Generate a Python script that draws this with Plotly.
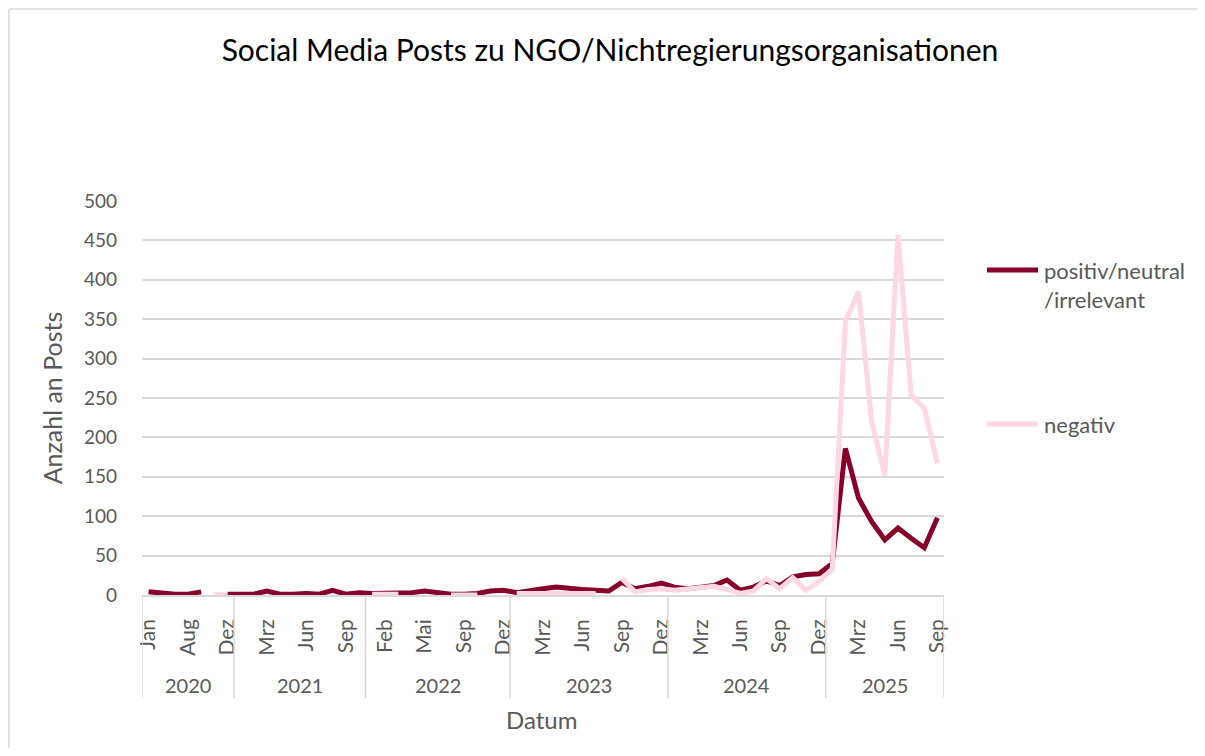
import plotly.graph_objects as go

# Monate je Jahr (wie in der Quelltabelle, nicht jeder Monat vorhanden)
jahre = ["2020", "2021", "2022", "2023", "2024", "2025"]
monate_2020 = ["Jan", "Feb", "Jul", "Aug", "Okt", "Nov", "Dez"]
monate_2021 = ["Jan", "Feb", "Mrz", "Apr", "Mai", "Jun", "Jul", "Aug", "Sep", "Okt"]
monate_2022 = ["Jan", "Feb", "Mrz", "Apr", "Mai", "Jun", "Aug", "Sep", "Okt", "Nov", "Dez"]
monate_2023 = ["Jan", "Feb", "Mrz", "Apr", "Mai", "Jun", "Jul", "Aug", "Sep", "Okt", "Nov", "Dez"]
monate_2024 = ["Jan", "Feb", "Mrz", "Apr", "Mai", "Jun", "Jul", "Aug", "Sep", "Okt", "Nov", "Dez"]
monate_2025 = ["Jan", "Feb", "Mrz", "Apr", "Mai", "Jun", "Jul", "Aug", "Sep"]

positiv = [4, 2, 1, 1, 4, None, 1,
           1, 1, 5, 1, 1, 2, 1, 6, 1, 3,
           2, 2, 2, 3, 5, 3, 1, 1, 2, 5, 6,
           3, 6, 8, 10, 8, 7, 6, 5, 16, 8, 11, 15,
           10, 8, 10, 12, 19, 6, 10, 18, 12, 23, 26, 27,
           40, 186, 123, 93, 70, 85, 72, 60, 98]

negativ = [None, None, None, None, None, 1, 0,
           None, None, None, None, None, None, None, None, None, None,
           1, 1, 1, None, None, None, 0, 0, 0, None, None,
           2, 2, 2, 2, 2, 2, 2, None, 21, 4, 7, 8,
           6, 8, 10, 11, 7, 2, 5, 21, 8, 22, 6, 17,
           33, 347, 385, 220, 152, 457, 254, 237, 167]

serien = ["positiv/neutral<br>/irrelevant", "negativ"]

monate_je_jahr = [monate_2020, monate_2021, monate_2022, monate_2023, monate_2024, monate_2025]
monate = [m for liste in monate_je_jahr for m in liste]
x = list(range(len(monate)))

dunkelrot = "#870029"
rosa = "#FFD6E3"
grau = "#595959"
linie = "#D9D9D9"
schrift = "Lato, Open Sans, sans-serif"

breite, hoehe = 1189, 740
plot_w, plot_h = 802, 394


def px_x(p):
    # Seitenpixel -> paper-Koordinate (Plotbereich beginnt bei x=142)
    return (p - 142) / plot_w


def px_y(p):
    # Seitenpixel -> paper-Koordinate (Achse bei y=595)
    return (595 - p) / plot_h


fig = go.Figure()
fig.add_trace(go.Scatter(x=x, y=positiv, mode="lines", name=serien[0],
                         line=dict(color=dunkelrot, width=5)))
fig.add_trace(go.Scatter(x=x, y=negativ, mode="lines", name=serien[1],
                         line=dict(color=rosa, width=5)))

# Jahresgruppen unter der Achse
grenzen = [0]
for liste in monate_je_jahr:
    grenzen.append(grenzen[-1] + len(liste))
for g in grenzen:
    fig.add_shape(type="line", xref="x", yref="paper", x0=g - 0.5, x1=g - 0.5,
                  y0=0, y1=px_y(698), line=dict(color=linie, width=1.5))
for i, jahr in enumerate(jahre):
    mitte = (grenzen[i] + grenzen[i + 1] - 1) / 2
    fig.add_annotation(x=mitte, xref="x", y=px_y(685), yref="paper", yanchor="middle",
                       text=jahr, showarrow=False,
                       font=dict(size=20, color=grau, family=schrift))

fig.add_annotation(x=px_x(541), xref="paper", y=px_y(719), yref="paper", yanchor="middle",
                   text="Datum", showarrow=False,
                   font=dict(size=24, color=grau, family=schrift))

# Legende (rechts, weit gespreizt wie im Original)
legende_y = [270, 424]
for name, farbe, ly in zip(serien, [dunkelrot, rosa], legende_y):
    fig.add_shape(type="line", xref="paper", yref="paper", x0=px_x(987), x1=px_x(1038),
                  y0=px_y(ly), y1=px_y(ly), line=dict(color=farbe, width=5))
    fig.add_annotation(x=px_x(1042), xref="paper", xanchor="left", y=px_y(ly - 15),
                       yref="paper", yanchor="top", align="left", text=name,
                       showarrow=False, font=dict(size=22, color=grau, family=schrift))

# Rahmen des Diagrammbereichs
fig.add_shape(type="line", xref="paper", yref="paper", x0=px_x(9), x1=px_x(1260),
              y0=px_y(9), y1=px_y(9), line=dict(color=linie, width=1.5))
fig.add_shape(type="line", xref="paper", yref="paper", x0=px_x(9), x1=px_x(9),
              y0=px_y(800), y1=px_y(9), line=dict(color=linie, width=1.5))

fig.update_layout(
    width=breite, height=hoehe,
    margin=dict(l=134, r=breite - 134 - plot_w, t=193, b=hoehe - 193 - plot_h),
    plot_bgcolor="white", paper_bgcolor="white",
    font=dict(family=schrift, color=grau, size=18),
    showlegend=False,
    title=dict(text="Social Media Posts zu NGO/Nichtregierungsorganisationen",
               x=602 / breite, xanchor="center", y=1 - 42 / hoehe, yanchor="middle",
               font=dict(size=30, color="black", family=schrift)),
    xaxis=dict(range=[-0.5, len(monate) - 0.5], tickmode="array",
               tickvals=x[::3], ticktext=monate[::3], tickangle=-90,
               showgrid=False, zeroline=False, showline=True, linecolor=linie,
               linewidth=1.5, ticks="", ticklabelstandoff=14,
               tickfont=dict(size=21, color=grau)),
    yaxis=dict(range=[0, 500], dtick=50, showgrid=True, gridcolor=linie, gridwidth=1.5,
               zeroline=False, showline=False, ticks="", ticklabelstandoff=24,
               tickfont=dict(size=19, color=grau),
               title=dict(text="Anzahl an Posts", standoff=14,
                          font=dict(size=25, color=grau))),
)

fig.write_html("out.html")
